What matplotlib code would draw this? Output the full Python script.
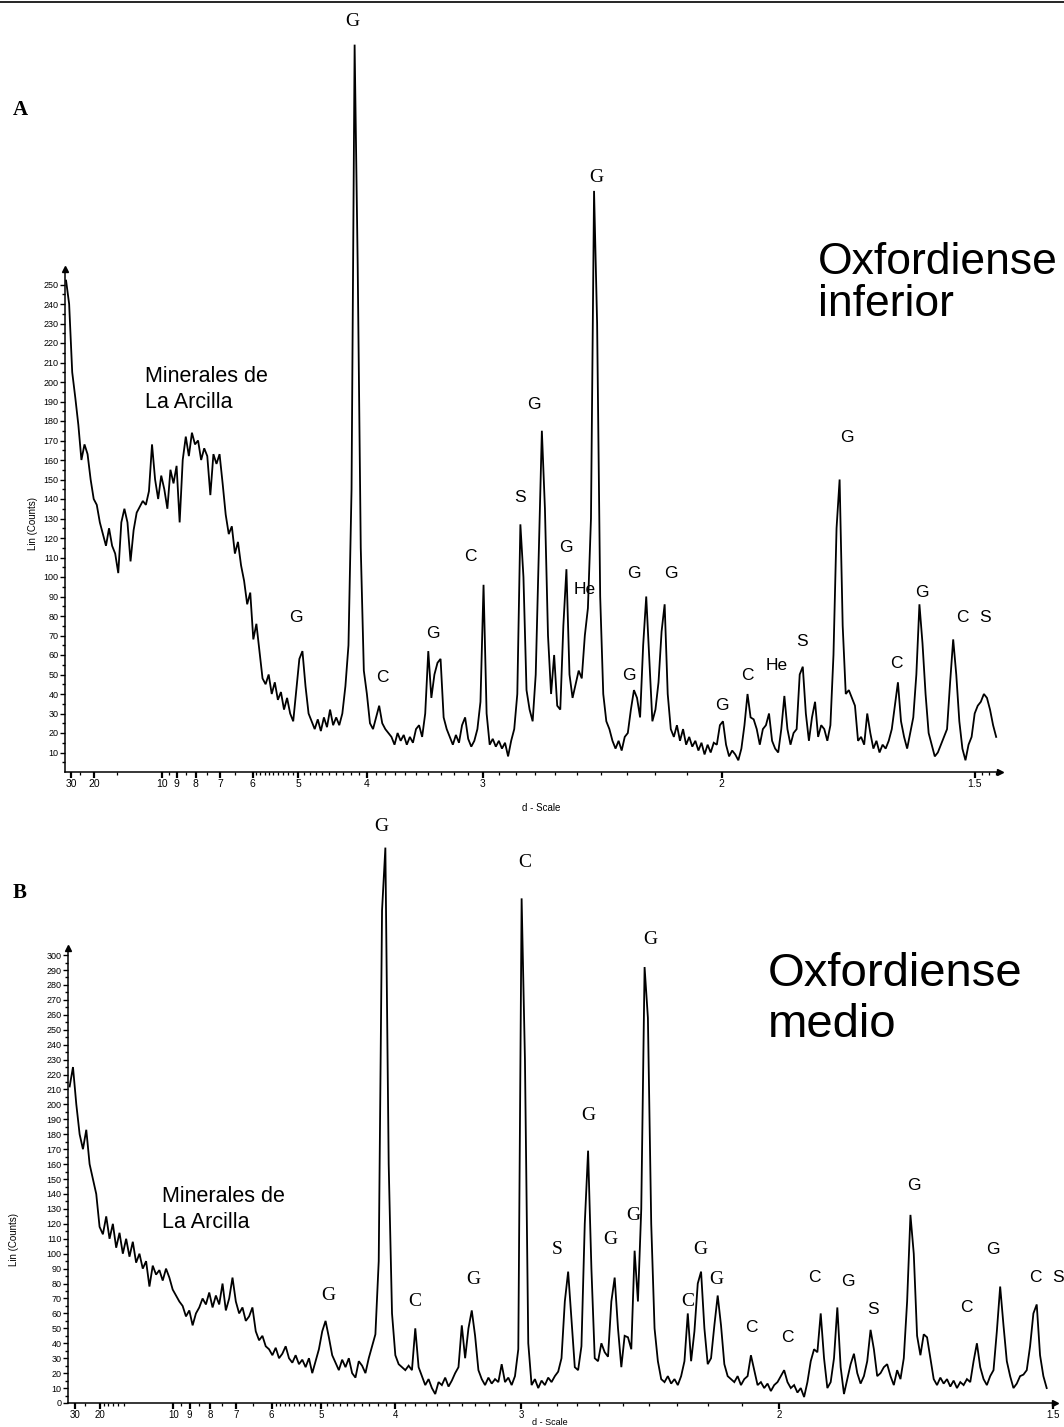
import numpy as np
import matplotlib
matplotlib.use("Agg")
import matplotlib.pyplot as plt
from matplotlib.lines import Line2D

WAVELENGTH = 1.5406  # Cu K-alpha (Angstrom)

# ---------------- Diffractogram A (Oxfordiense inferior) ----------------
scan_a_start = 2.6   # 2-theta of first step (deg)
scan_a_step = 0.2    # step size (deg)
counts_a = [
    252, 240, 205, 192, 178, 160, 168, 163, 150, 140,
    137, 128, 122, 116, 125, 116, 112, 102, 128, 135,
    128, 108, 124, 133, 136, 139, 137, 144, 168, 150,
    140, 152, 145, 135, 155, 148, 157, 128, 160, 172,
    162, 174, 168, 170, 160, 166, 162, 142, 163, 158,
    163, 148, 132, 122, 126, 112, 118, 106, 98, 86,
    92, 68, 76, 62, 48, 45, 50, 40, 46, 37,
    41, 32, 38, 30, 26, 42, 58, 62, 44, 30,
    26, 22, 27, 21, 28, 23, 32, 24, 28, 24,
    30, 44, 65, 145, 373, 260, 115, 52, 40, 25,
    22, 28, 34, 25, 22, 20, 18, 14, 20, 16,
    19, 14, 18, 15, 22, 24, 18, 30, 62, 38,
    50, 56, 58, 28, 22, 18, 14, 19, 15, 24,
    28, 17, 13, 16, 22, 36, 96, 30, 14, 17,
    13, 16, 12, 15, 8, 16, 22, 40, 127, 100,
    42, 32, 26, 50, 112, 175, 135, 70, 40, 60,
    34, 32, 75, 104, 50, 38, 45, 52, 48, 70,
    84, 130, 298, 230, 90, 40, 26, 22, 16, 12,
    16, 11, 18, 20, 32, 42, 38, 28, 65, 90,
    58, 26, 32, 46, 72, 86, 40, 22, 18, 24,
    16, 22, 14, 18, 13, 16, 11, 15, 9, 14,
    10, 15, 14, 24, 26, 14, 8, 11, 9, 6,
    12, 24, 40, 28, 27, 22, 14, 22, 24, 30,
    16, 12, 10, 22, 39, 22, 14, 20, 22, 50,
    54, 30, 16, 28, 36, 18, 24, 22, 16, 24,
    60, 125, 150, 75, 40, 42, 38, 34, 16, 18,
    14, 30, 20, 12, 16, 10, 14, 12, 16, 22,
    34, 46, 26, 18, 12, 20, 28, 50, 86, 66,
    40, 20, 14, 8, 10, 14, 18, 22, 46, 68,
    50, 26, 12, 6, 14, 18, 30, 34, 36, 40,
    38, 32, 24, 18,
]

# ---------------- Diffractogram B (Oxfordiense medio) ----------------
scan_b_start = 2.6
scan_b_step = 0.2
counts_b = [
    212, 225, 200, 180, 170, 183, 160, 150, 140, 118,
    113, 125, 110, 120, 104, 114, 100, 110, 98, 108,
    94, 100, 90, 95, 78, 92, 86, 89, 82, 90,
    84, 76, 72, 68, 65, 58, 62, 52, 60, 64,
    70, 66, 74, 64, 72, 66, 80, 62, 70, 84,
    68, 60, 64, 55, 58, 64, 48, 42, 45, 38,
    36, 32, 37, 30, 33, 38, 30, 27, 32, 26,
    29, 24, 30, 20, 28, 36, 48, 55, 44, 32,
    27, 22, 29, 24, 30, 20, 17, 28, 25, 20,
    30, 38, 46, 95, 330, 372, 160, 60, 32, 26,
    24, 22, 25, 22, 50, 24, 18, 12, 16, 10,
    6, 14, 12, 17, 11, 15, 20, 24, 52, 30,
    50, 62, 45, 22, 16, 12, 17, 13, 16, 14,
    26, 14, 17, 12, 18, 36, 338, 230, 40, 12,
    16, 10, 15, 12, 17, 14, 18, 21, 30, 68,
    88, 56, 24, 22, 38, 120, 169, 90, 30, 28,
    40, 34, 31, 68, 84, 50, 24, 45, 44, 36,
    102, 68, 130, 292, 258, 120, 50, 28, 16, 14,
    18, 13, 16, 12, 18, 28, 60, 28, 48, 80,
    88, 50, 26, 30, 52, 72, 52, 26, 18, 16,
    14, 18, 12, 16, 18, 32, 22, 12, 14, 10,
    13, 8, 12, 14, 18, 22, 14, 10, 12, 7,
    10, 4, 14, 28, 36, 34, 60, 30, 10, 14,
    30, 64, 24, 6, 16, 26, 33, 20, 13, 18,
    28, 49, 36, 18, 20, 24, 26, 18, 12, 22,
    16, 30, 68, 126, 100, 45, 32, 46, 44, 30,
    16, 12, 17, 13, 16, 11, 15, 10, 14, 12,
    16, 14, 28, 40, 24, 16, 12, 18, 22, 48,
    78, 52, 28, 18, 10, 13, 18, 19, 22, 38,
    60, 66, 32, 18, 10,
]

# d-scale tick values (Angstrom)
d_major = [30, 20, 10, 9, 8, 7, 6, 5, 4, 3, 2, 1.5]
d_major_labels = ["30", "20", "10", "9", "8", "7", "6", "5", "4", "3", "2", "1.5"]
d_minor_common = ([25, 15, 9.5, 8.5, 7.5, 6.5]
                  + [round(5.9 - 0.1 * k, 1) for k in range(9)]
                  + [round(4.9 - 0.1 * k, 1) for k in range(9)]
                  + [round(3.9 - 0.1 * k, 1) for k in range(9)]
                  + [round(2.9 - 0.1 * k, 1) for k in range(9)]
                  + [1.49, 1.48, 1.47, 1.46])
d_minor_extra_b = [19, 18, 17, 16]

# Peak labels: (text, x px, y px, serif)
labels_a = [
    ("G", 352, 22, True), ("G", 596, 178, True),
    ("G", 296, 617, False), ("C", 382, 678, False), ("G", 433, 634, False),
    ("C", 470, 556, False), ("S", 520, 497, False), ("G", 534, 405, False),
    ("G", 566, 547, False), ("He", 585, 589, False), ("G", 629, 675, False),
    ("G", 634, 573, False), ("G", 671, 574, False), ("G", 722, 706, False),
    ("C", 747, 675, False), ("He", 777, 666, False), ("S", 802, 642, False),
    ("G", 847, 437, False), ("C", 896, 664, False), ("G", 922, 593, False),
    ("C", 962, 617, False), ("S", 985, 617, False),
]
labels_b = [
    ("G", 381, 826, True), ("C", 525, 862, True), ("G", 650, 939, True),
    ("G", 588, 1116, True), ("S", 557, 1250, True), ("G", 610, 1240, True),
    ("G", 633, 1216, True), ("G", 700, 1250, True), ("G", 716, 1280, True),
    ("C", 688, 1302, True), ("C", 415, 1302, True), ("G", 473, 1280, True),
    ("G", 328, 1295, True),
    ("C", 751, 1327, False), ("C", 787, 1337, False), ("C", 814, 1278, False),
    ("G", 848, 1281, False), ("S", 873, 1309, False), ("G", 914, 1185, False),
    ("C", 966, 1308, False), ("G", 993, 1250, False), ("C", 1035, 1278, False),
    ("S", 1058, 1278, False),
]

W, H = 1064, 1427
SANS = ["Liberation Sans", "DejaVu Sans"]
SERIF = ["Liberation Serif", "DejaVu Serif"]


def two_theta(d):
    """Bragg angle 2-theta (deg) for a d-spacing (Angstrom)."""
    d = np.asarray(d, dtype=float)
    return 2.0 * np.degrees(np.arcsin(WAVELENGTH / (2.0 * d)))


fig = plt.figure(figsize=(W / 100, H / 100), dpi=100)


def put(text, x, y, size, family=SANS, weight="normal", ha="center", va="center", **kw):
    fig.text(x / W, 1 - y / H, text, fontsize=size, family=family,
             weight=weight, ha=ha, va=va, **kw)


def draw_scan(rect, start, step, counts, xlim, ylim_top, spine_top, ytick_max,
              label_zero, d_minor, xlabel_size):
    ax = fig.add_axes(rect)
    counts = np.asarray(counts, dtype=float)
    tth = start + step * np.arange(len(counts))
    ax.plot(tth, counts, color="black", lw=1.3, solid_joinstyle="miter")
    ax.set_xlim(*xlim)
    ax.set_ylim(0, ylim_top)

    for side in ("top", "right"):
        ax.spines[side].set_visible(False)
    ax.spines["left"].set_bounds(0, spine_top)
    ax.spines["left"].set_linewidth(1.1)
    ax.spines["bottom"].set_linewidth(1.1)
    ax.plot([xlim[0]], [spine_top], marker="^", ms=4, color="black", clip_on=False)
    ax.plot([1.0], [0.0], marker=">", ms=4, color="black", clip_on=False,
            transform=ax.transAxes)

    # x ticks: d-spacing on a 2-theta axis
    lo, hi = xlim
    maj = [(two_theta(d), lab) for d, lab in zip(d_major, d_major_labels)
           if lo - 0.5 <= two_theta(d) <= hi]
    ax.set_xticks([m[0] for m in maj])
    ax.set_xticklabels([m[1] for m in maj], fontsize=xlabel_size, family=SANS)
    mn = [two_theta(d) for d in d_minor if lo <= two_theta(d) <= hi]
    ax.set_xticks(mn, minor=True)
    ax.tick_params(axis="x", which="major", direction="out", length=4.5, width=1.6, pad=0.5)
    ax.tick_params(axis="x", which="minor", direction="out", length=2.2, width=0.9)

    # y ticks
    yt = np.arange(0 if label_zero else 10, ytick_max + 1, 10)
    ax.set_yticks(yt)
    ax.set_yticklabels([str(v) for v in yt], fontsize=6.5, family=SANS)
    ax.set_yticks(np.arange(5, ytick_max + 1, 10), minor=True)
    ax.tick_params(axis="y", which="major", direction="out", length=3.5, width=1.0, pad=1)
    ax.tick_params(axis="y", which="minor", direction="out", length=2, width=1.0)
    return ax


# Panel A geometry (pixels): x-axis 65..1000, zero line at y=772, 1.95 px/count
ax_a = draw_scan([65 / W, 1 - 772 / H, 935 / W, 752 / H],
                 scan_a_start, scan_a_step, counts_a,
                 xlim=(2.53, 63.45), ylim_top=752 / 1.95, spine_top=258,
                 ytick_max=250, label_zero=False, d_minor=d_minor_common,
                 xlabel_size=7.5)
# Panel B geometry: x-axis 68..1055, zero line at y=1403, 1.493 px/count
ax_b = draw_scan([68 / W, 1 - 1403 / H, 987 / W, 573 / H],
                 scan_b_start, scan_b_step, counts_b,
                 xlim=(2.50, 61.9), ylim_top=573 / 1.493, spine_top=305,
                 ytick_max=300, label_zero=True,
                 d_minor=d_minor_common + d_minor_extra_b, xlabel_size=7)

# Axis titles
put("Lin (Counts)", 33, 523, 7, rotation=90)
put("Lin (Counts)", 14, 1240, 7, rotation=90)
put("d - Scale", 541, 808, 7)
put("d - Scale", 550, 1422.5, 6.5)

# Panel letters
put("A", 20, 110, 15, family=SERIF, weight="bold")
put("B", 20, 893, 15, family=SERIF, weight="bold")

# Sample names
put("Oxfordiense", 818, 262, 32, ha="left")
put("inferior", 818, 305, 32, ha="left")
put("Oxfordiense", 768, 974, 34, ha="left")
put("medio", 768, 1025, 34, ha="left")

# Clay mineral hump
put("Minerales de", 145, 376, 15.5, ha="left")
put("La Arcilla", 145, 402, 15.5, ha="left")
put("Minerales de", 162, 1197, 15.5, ha="left")
put("La Arcilla", 162, 1223, 15.5, ha="left")

# Peak identifications
for txt, x, y, serif in labels_a + labels_b:
    if serif:
        put(txt, x, y, 14, family=SERIF)
    else:
        put(txt, x, y, 12.5)

# Rule along the top edge
fig.add_artist(Line2D([0, 1], [1 - 1.5 / H, 1 - 1.5 / H], color="black", lw=1.2,
                      transform=fig.transFigure))

fig.savefig("out.png", dpi=100)
